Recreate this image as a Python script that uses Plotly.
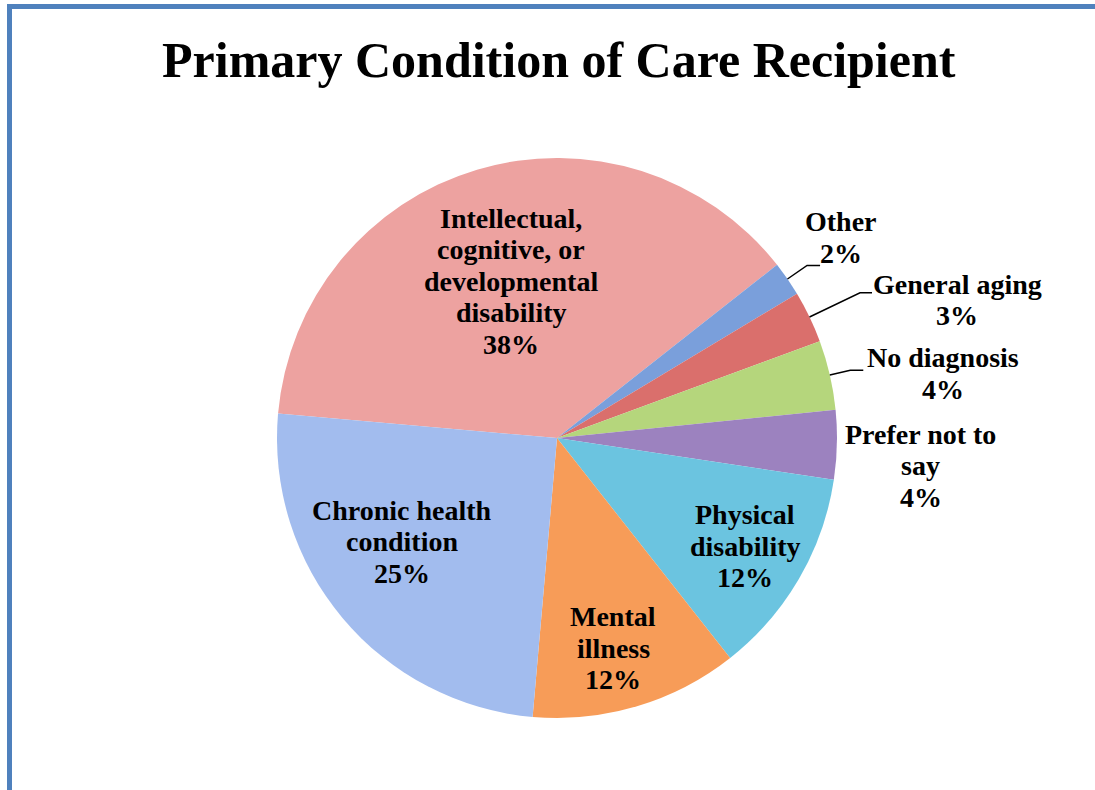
import math
import plotly.graph_objects as go

# ---- data ----
categories = ["Intellectual, cognitive, or developmental disability", "Other", "General aging",
              "No diagnosis", "Prefer not to say", "Physical disability", "Mental illness",
              "Chronic health condition"]
label_lines = [["Intellectual,", "cognitive, or", "developmental", "disability"], ["Other"], ["General aging"],
               ["No diagnosis"], ["Prefer not to", "say"], ["Physical", "disability"], ["Mental", "illness"],
               ["Chronic health", "condition"]]
values = [38, 2, 3, 4, 4, 12, 12, 25]
colors = ["#EDA2A0", "#7A9FDB", "#DA6F6C", "#B5D67C", "#9C82BF", "#6BC4E0", "#F79C58", "#A2BCEE"]
title_text = "Primary Condition of Care Recipient"

# ---- layout geometry (style) ----
W, H = 1095, 790
CX, CY, R = 557, 438, 280
START_DEG = 175  # math angle where first slice starts (counterclockwise from +x)
FONT = "Liberation Serif"
TXT = 28
PITCH = 31.5

# label placement styles:
# ("in", radius_frac, dx, dy) / ("out", elbow_frac, seg_len, dx, dy) / ("near", frac, dx, dy)
label_style = [("in", 0.57, 0, -4), ("out", 1.085, 13, 21, -28), ("out", 1.2, 12, 85, 7),
               ("out", 1.075, 13, 80, 3), ("near", 1.0, 84, 21),
               ("in", 0.77, 2, 0), ("in", 0.78, -6, 1), ("in", 0.67, -11, -17)]

fig = go.Figure()
fig.add_trace(go.Pie(
    labels=categories, values=values, sort=False, direction="clockwise",
    rotation=90 - START_DEG,
    marker=dict(colors=colors, line=dict(width=0)),
    textinfo="none", hoverinfo="skip", showlegend=False,
    domain=dict(x=[(CX - R) / W, (CX + R) / W], y=[(H - CY - R) / H, (H - CY + R) / H]),
))

def px2paper(x, y):
    return x / W, 1 - y / H

total = sum(values)
ang = START_DEG
annotations = []
shapes = []
for i, v in enumerate(values):
    sweep = v / total * 360
    mid = math.radians(ang - sweep / 2)
    ang -= sweep
    lines = label_lines[i] + [f"{round(v / total * 100)}%"]
    st = label_style[i]
    if st[0] == "in":
        x = CX + R * st[1] * math.cos(mid) + st[2]
        y = CY - R * st[1] * math.sin(mid) + st[3]
    elif st[0] == "out":
        x0 = CX + R * math.cos(mid)
        y0 = CY - R * math.sin(mid)
        x1 = CX + R * st[1] * math.cos(mid)
        y1 = CY - R * st[1] * math.sin(mid)
        x2 = x1 + st[2]
        y2 = y1
        p0, p1, p2 = px2paper(x0, y0), px2paper(x1, y1), px2paper(x2, y2)
        shapes.append(dict(type="path", xref="paper", yref="paper",
                           path=f"M {p0[0]},{p0[1]} L {p1[0]},{p1[1]} L {p2[0]},{p2[1]}",
                           line=dict(color="black", width=1.5)))
        x = x2 + st[3]
        y = y2 + st[4]
    else:
        x = CX + R * st[1] * math.cos(mid) + st[2]
        y = CY - R * st[1] * math.sin(mid) + st[3]
    n = len(lines)
    for k, line in enumerate(lines):
        ly = y + (k - (n - 1) / 2) * PITCH
        px, py = px2paper(x, ly)
        annotations.append(dict(x=px, y=py, xref="paper", yref="paper", text=f"<b>{line}</b>",
                                showarrow=False, xanchor="center", yanchor="middle", align="center",
                                font=dict(family=FONT, size=TXT, color="black")))

tx, ty = px2paper(559, 60)
annotations.append(dict(x=tx, y=ty, xref="paper", yref="paper",
                        text=f"<b>{title_text}</b>", showarrow=False,
                        xanchor="center", yanchor="middle",
                        font=dict(family=FONT, size=50, color="black")))

# chart border (left and top visible)
shapes.append(dict(type="rect", xref="paper", yref="paper",
                   x0=9.5 / W, y0=-0.05, x1=1.05, y1=1 - 6.5 / H,
                   line=dict(color="#4F81BD", width=5), fillcolor="rgba(0,0,0,0)"))

fig.update_layout(width=W, height=H, margin=dict(l=0, r=0, t=0, b=0),
                  paper_bgcolor="white", plot_bgcolor="white",
                  annotations=annotations, shapes=shapes)
fig.write_html("out.html", config={"displayModeBar": False},
               post_script="document.body.style.margin='0';document.body.style.overflow='hidden';")
